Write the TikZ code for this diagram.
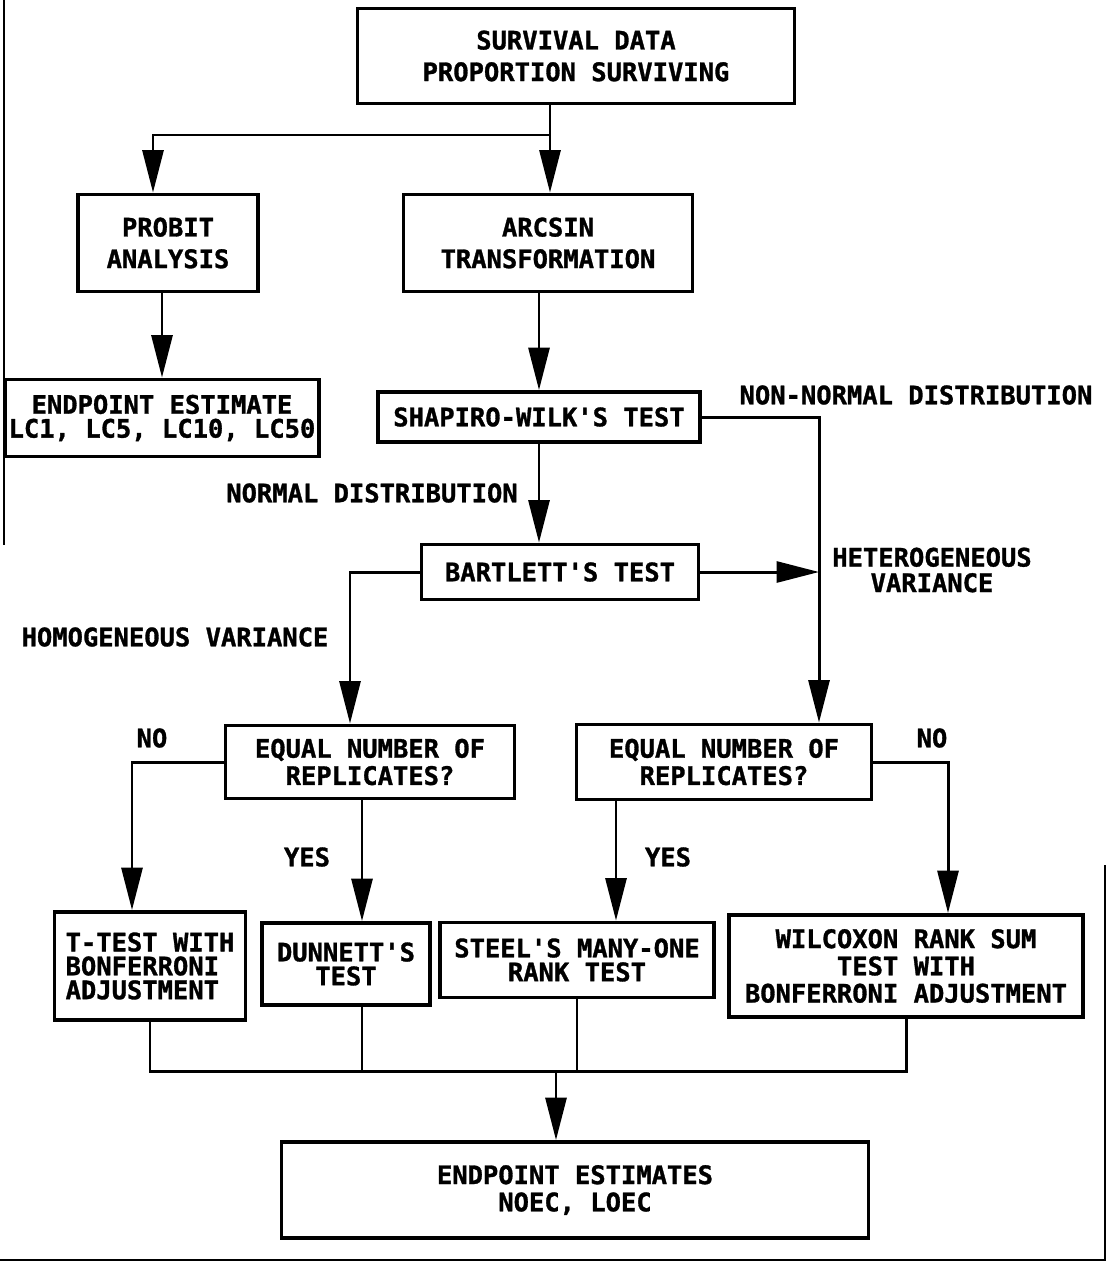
\documentclass[tikz,border=0pt]{standalone}
\usepackage{fontspec}
\newfontfamily\plotfont{DejaVu Sans Mono}[BoldFeatures={FakeBold=1.2}]
\usetikzlibrary{arrows.meta,positioning,calc}

\tikzset{
  flowbox/.style={draw,line width=2.2pt,align=center,inner sep=2pt,
    font=\plotfont\bfseries\fontsize{14.5}{15.5}\selectfont},
  widegap/.style={font=\plotfont\bfseries\fontsize{14.5}{18}\selectfont},
  tightgap/.style={font=\plotfont\bfseries\fontsize{14.5}{13.6}\selectfont},
  flowlbl/.style={inner sep=0pt,align=center,
    font=\plotfont\bfseries\fontsize{14.5}{14.5}\selectfont},
  flowline/.style={line width=1.7pt},
  flowarr/.style={flowline,-{Triangle[length=0.85cm,width=0.42cm]}},
}

\begin{document}
\begin{tikzpicture}[x=0.02cm,y=-0.02cm]
  \useasboundingbox (0,0) rectangle (1110,1265);
  % edges of the scanned page
  \draw[line width=1.6pt] (4,0) -- (4,545);
  \draw[line width=1.6pt] (0,1260) -- (1105,1260) -- (1105,865);

  % boxes
  \node[flowbox,widegap,minimum width=8.74cm,minimum height=1.9cm] (survival) at (576,56)
    {SURVIVAL DATA\\PROPORTION SURVIVING};
  \node[flowbox,widegap,minimum width=3.6cm,minimum height=1.94cm] (probit) at (168,243)
    {PROBIT\\ANALYSIS};
  \node[flowbox,widegap,minimum width=5.78cm,minimum height=1.94cm] (arcsin) at (548,243)
    {ARCSIN\\TRANSFORMATION};
  \node[flowbox,tightgap,minimum width=6.1cm,minimum height=1.54cm] (lcend) at (162,418)
    {ENDPOINT ESTIMATE\\LC1, LC5, LC10, LC50};
  \node[flowbox,minimum width=6.44cm,minimum height=1.0cm] (shapiro) at (539,417)
    {SHAPIRO-WILK'S TEST};
  \node[flowbox,minimum width=5.54cm,minimum height=1.1cm] (bartlett) at (560,572)
    {BARTLETT'S TEST};
  \node[flowbox,minimum width=5.78cm,minimum height=1.46cm] (eqL) at (370,762)
    {EQUAL NUMBER OF\\REPLICATES?};
  \node[flowbox,minimum width=5.9cm,minimum height=1.5cm] (eqR) at (724,762)
    {EQUAL NUMBER OF\\REPLICATES?};
  \node[flowbox,tightgap,align=left,minimum width=3.82cm,minimum height=2.16cm] (ttest) at (150,966)
    {T-TEST WITH\\BONFERRONI\\ADJUSTMENT};
  \node[flowbox,tightgap,minimum width=3.36cm,minimum height=1.64cm] (dunnett) at (346,964)
    {DUNNETT'S\\TEST};
  \node[flowbox,tightgap,minimum width=5.48cm,minimum height=1.5cm] (steel) at (577,960)
    {STEEL'S MANY-ONE\\RANK TEST};
  \node[flowbox,minimum width=7.08cm,minimum height=2.04cm] (wilcoxon) at (906,966)
    {WILCOXON RANK SUM\\TEST WITH\\BONFERRONI ADJUSTMENT};
  \node[flowbox,minimum width=11.74cm,minimum height=1.92cm] (endest) at (575,1190)
    {ENDPOINT ESTIMATES\\NOEC, LOEC};

  % labels
  \node[flowlbl] (nonnormal) at (916,395) {NON-NORMAL DISTRIBUTION};
  \node[flowlbl] (normal) at (372,493) {NORMAL DISTRIBUTION};
  \node[flowlbl] (hetero) at (932,570) {HETEROGENEOUS\\VARIANCE};
  \node[flowlbl] (homo) at (175,637) {HOMOGENEOUS VARIANCE};
  \node[flowlbl] (noL) at (152,738) {NO};
  \node[flowlbl] (noR) at (932,738) {NO};
  \node[flowlbl] (yesL) at (307,857) {YES};
  \node[flowlbl] (yesR) at (668,857) {YES};

  % connector points
  \coordinate (split) at (550,135);
  \coordinate (rail) at (819,417);
  \coordinate (bus) at (0,1071);
  \coordinate (probin) at ($(probit.north)+(-15,0)$);
  \coordinate (eqLin) at ($(eqL.north)+(-20,0)$);
  \coordinate (ttin) at ($(ttest.north)+(-18,0)$);
  \coordinate (dunin) at ($(dunnett.north)+(16,0)$);
  \coordinate (steelin) at ($(steel.north)+(39,0)$);
  \coordinate (wilin) at ($(wilcoxon.north)+(42,0)$);
  \coordinate (endin) at ($(endest.north)+(-19,0)$);

  % connectors
  \draw[flowline] (survival.south -| split) -- (split);
  \draw[flowarr] (split) -| (probin);
  \draw[flowarr] (split) -- (arcsin.north -| split);
  \draw[flowarr] (probit.south -| lcend) -- (lcend.north);
  \draw[flowarr] (arcsin.south -| shapiro) -- (shapiro.north);
  \draw[flowarr] (shapiro.south) -- (bartlett.north -| shapiro.south);
  \draw[flowarr] (shapiro.east) -- (rail) -- (rail |- eqR.north);
  \draw[flowarr] (bartlett.east) -- (bartlett.east -| rail);
  \draw[flowarr] (bartlett.west) -| (eqLin);
  \draw[flowarr] (eqL.west) -| (ttin);
  \draw[flowarr] (eqL.south -| dunin) -- (dunin);
  \draw[flowarr] (eqR.south -| steelin) -- (steelin);
  \draw[flowarr] (eqR.east) -| (wilin);
  \draw[flowline] (ttest.south) -- (ttest.south |- bus) -- (wilcoxon.south |- bus) -- (wilcoxon.south);
  \draw[flowline] (dunin |- dunnett.south) -- (dunin |- bus);
  \draw[flowline] (steel.south) -- (steel.south |- bus);
  \draw[flowarr] (endin |- bus) -- (endin);
\end{tikzpicture}
\end{document}
